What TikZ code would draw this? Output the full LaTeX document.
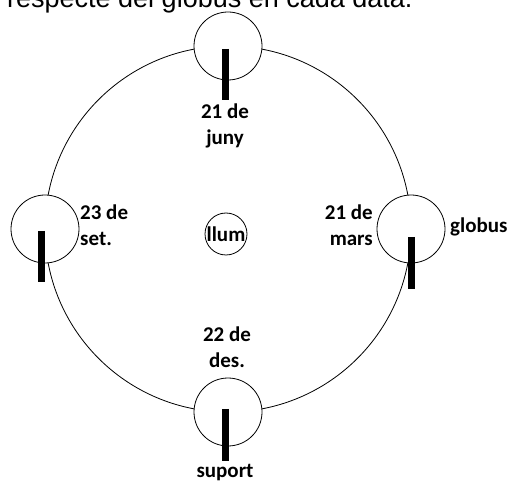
\documentclass[tikz,border=0pt]{standalone}
\usepackage{fontspec}
\setmainfont{Liberation Sans}
\newfontfamily\calibri{Carlito}
\usetikzlibrary{calc}

\tikzset{
	globe/.style={draw, thick, fill=white, circle, minimum size=68pt, inner sep=0pt},
	bar/.style={line width=7pt},
	lbl/.style={font=\calibri\bfseries\fontsize{21}{26}\selectfont, inner sep=0pt}
}

\begin{document}
\begin{tikzpicture}[x=1pt, y=-1pt]
\useasboundingbox (0,0) rectangle (512,481);
\begin{scope}
\clip (0,0) rectangle (512,481);
\node[anchor=base west, inner sep=0pt, font=\fontsize{27}{32}\selectfont] (title) at (7,8) {respecte del globus en cada data.};
\end{scope}
% orbit
\coordinate (sun) at (228,229);
\draw [thick] (sun) circle (183pt);
\node[lbl, draw, thick, circle, minimum size=42pt] (llum) at (226,234) {llum};
% four positions of the globe
\node[globe] (jun) at (228,46) {};
\node[globe] (set) at (45,229) {};
\node[globe] (mar) at (411,229) {};
\node[globe] (des) at (228,412) {};
\draw [bar] ($(jun)+(-2.5,3)$) -- ++(0,51);
\draw [bar] ($(set)+(-4,2)$) -- ++(0,51);
\draw [bar] ($(mar)+(0,8)$) -- ++(0,52);
\draw [bar] ($(des)+(-3,-3)$) -- ++(0,52);
% dates
\node[lbl, align=center, anchor=north] (lj) at (225,104) {21 de\\juny};
\node[lbl, align=left, anchor=north west] (ls) at (80,205) {23 de\\set.};
\node[lbl, align=right, anchor=north east] (lm) at (373,205) {21 de\\mars};
\node[lbl, align=center, anchor=north] (ld) at (227,327) {22 de\\des.};
\node[lbl, anchor=base west] (lg) at (450,233) {globus};
\node[lbl, anchor=base] (lsu) at (225,477) {suport};
\end{tikzpicture}
\end{document}
